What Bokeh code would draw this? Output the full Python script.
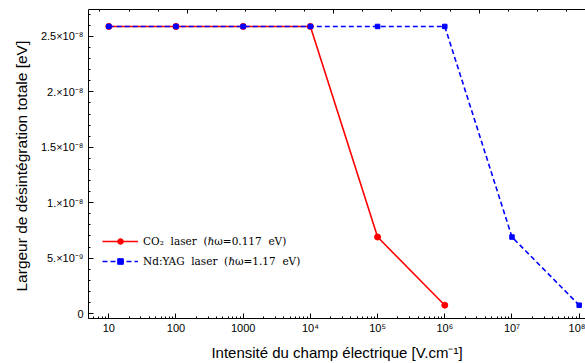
import math
from bokeh.plotting import figure
from bokeh.models import (Range1d, FixedTicker, CustomJSTickFormatter, LogAxis,
                          Legend, LegendItem)
from bokeh.embed import file_html
from bokeh.resources import INLINE

# Field intensity (V/cm)
co2_field = [10, 100, 1000, 1e4, 1e5, 1e6]
ndyag_field = [10, 100, 1000, 1e4, 1e5, 1e6, 1e7, 1e8]

# Total decay width (eV)
co2_width = [2.59e-8, 2.59e-8, 2.59e-8, 2.59e-8, 6.9e-9, 7.5e-10]
ndyag_width = [2.59e-8, 2.59e-8, 2.59e-8, 2.59e-8, 2.59e-8, 2.59e-8, 6.9e-9, 7.5e-10]

# Tick positions and labels
x_ticks = [10, 100, 1000, 1e4, 1e5, 1e6, 1e7, 1e8]
x_labels = ["10", "100", "1000", "10⁴", "10⁵", "10⁶", "10⁷", "10⁸"]
y_ticks = [0, 5e-9, 1e-8, 1.5e-8, 2e-8, 2.5e-8]
y_labels = ["0", "5.×10⁻⁹", "1.×10⁻⁸", "1.5×10⁻⁸", "2.×10⁻⁸", "2.5×10⁻⁸"]

co2_label = "CO₂  laser  (ℏω=0.117  eV)"
ndyag_label = "Nd:YAG  laser  (ℏω=1.17  eV)"

SANS = "Liberation Sans"
SERIF = "DejaVu Serif"

p = figure(width=585, height=363, x_axis_type="log",
           x_range=Range1d(10 ** 0.698, 10 ** 8.094),
           y_range=Range1d(-0.045e-8, 2.743e-8),
           output_backend="svg", toolbar_location=None,
           min_border_left=88, min_border_right=0,
           min_border_top=9, min_border_bottom=44)

p.xgrid.visible = False
p.ygrid.visible = False
p.outline_line_color = None
p.background_fill_color = "white"
p.border_fill_color = "white"

fmt_code = """
for (let i = 0; i < ticks_v.length; i++) {
    if (Math.abs(ticks_v[i] - tick) <= 1e-6 * Math.max(Math.abs(tick), 1e-20)) { return labels[i]; }
}
return "";
"""

def minor_log(lo, hi):
    out = []
    for e in range(lo, hi + 1):
        for k in range(1, 10):
            out.append(k * 10 ** e)
    return out

# bottom axis
xa = p.xaxis[0]
xa.ticker = FixedTicker(ticks=x_ticks, minor_ticks=minor_log(0, 8))
xa.formatter = CustomJSTickFormatter(args=dict(ticks_v=x_ticks, labels=x_labels), code=fmt_code)
xa.axis_label = "Intensité du champ électrique [V.cm⁻¹]"

# left axis
ya = p.yaxis[0]
y_minor = [i * 1e-9 for i in range(0, 28)]
ya.ticker = FixedTicker(ticks=y_ticks, minor_ticks=y_minor)
ya.formatter = CustomJSTickFormatter(args=dict(ticks_v=y_ticks, labels=y_labels), code=fmt_code)
ya.axis_label = "Largeur de désintégration totale  [eV]"

for ax in (xa, ya):
    ax.major_tick_in = 5
    ax.major_tick_out = 0
    ax.minor_tick_in = 2
    ax.minor_tick_out = 0
    ax.major_label_text_font = SANS
    ax.major_label_text_font_size = "11px"
    ax.major_label_text_color = "black"
    ax.axis_label_text_font = SANS
    ax.axis_label_text_font_style = "normal"
    ax.axis_label_text_color = "black"
    ax.axis_line_color = "black"
    ax.major_tick_line_color = "black"
    ax.minor_tick_line_color = "black"

xa.axis_label_text_font_size = "15px"
ya.axis_label_text_font_size = "15.5px"
xa.major_label_standoff = 3
xa.axis_label_standoff = 7
ya.major_label_standoff = 5
ya.axis_label_standoff = 8

# top frame ticks (natural-log spacing)
top = LogAxis(ticker=FixedTicker(ticks=[math.exp(n) for n in range(0, 25, 5)],
                                 minor_ticks=[math.exp(n) for n in range(0, 25)]))
top.formatter = CustomJSTickFormatter(code='return "";')
top.major_tick_in = 4
top.major_tick_out = 0
top.minor_tick_in = 2
top.minor_tick_out = 0
top.major_label_standoff = 0
top.major_label_text_font_size = "0px"
top.axis_line_color = "black"
p.add_layout(top, "above")

r_line = p.line(co2_field, co2_width, line_color="#ff0000", line_width=1.6)
r_pts = p.scatter(co2_field, co2_width, marker="circle", size=6,
                  fill_color="#ff0000", line_color="#ff0000")
b_line = p.line(ndyag_field, ndyag_width, line_color="#0000ff", line_width=1.6,
                line_dash="5 3")
b_pts = p.scatter(ndyag_field, ndyag_width, marker="square", size=4.5,
                  fill_color="#0000ff", line_color="#0000ff")

legend = Legend(items=[LegendItem(label=co2_label, renderers=[r_line, r_pts]),
                       LegendItem(label=ndyag_label, renderers=[b_line, b_pts])],
                location=(14, 50))
legend.border_line_color = None
legend.background_fill_alpha = 0
legend.padding = 0
legend.margin = 0
legend.spacing = 6
legend.glyph_width = 36
legend.glyph_height = 14
legend.label_height = 14
legend.label_standoff = 5
legend.label_text_font = SERIF
legend.label_text_font_size = "10.5px"
legend.label_text_color = "black"
p.add_layout(legend, "center")

open("out.html", "w").write(file_html(p, INLINE))
